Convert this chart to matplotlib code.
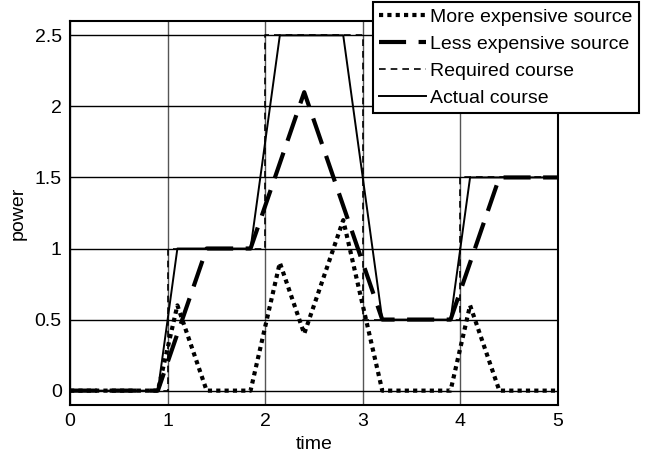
import matplotlib
matplotlib.use("Agg")
import matplotlib.pyplot as plt

plt.rcParams['font.family'] = ['Liberation Sans', 'DejaVu Sans']

# breakpoints
t_req = [0, 1, 1, 2, 2, 3, 3, 4, 4, 5]
p_req = [0, 0, 1, 1, 2.5, 2.5, 0.5, 0.5, 1.5, 1.5]

t_act = [0, 0.9, 1.1, 1.85, 2.15, 2.8, 3.2, 3.9, 4.1, 5]
p_act = [0, 0, 1.0, 1.0, 2.5, 2.5, 0.5, 0.5, 1.5, 1.5]

t_less = [0, 0.9, 1.4, 1.85, 2.4, 3.2, 3.9, 4.4, 5]
p_less = [0, 0, 1.0, 1.0, 2.1, 0.5, 0.5, 1.5, 1.5]

t_more = [0, 0.9, 1.1, 1.4, 1.85, 2.15, 2.4, 2.8, 3.2, 3.9, 4.1, 4.4, 5]
p_more = [0, 0, 0.6, 0, 0, 0.9, 0.4, 1.2, 0, 0, 0.6, 0, 0]

fig = plt.figure(figsize=(6.61, 4.59), dpi=100)
ax = fig.add_axes([0.106, 0.118, 0.738, 0.836])

ax.plot(t_more, p_more, color='black', linestyle=(0, (1, 1)), linewidth=3, label='More expensive source')
ax.plot(t_less, p_less, color='black', linestyle=(0, (6.5, 3)), linewidth=3, label='Less expensive source')
ax.plot(t_req, p_req, color='black', linestyle=(0, (4, 3)), linewidth=1.2, label='Required course')
ax.plot(t_act, p_act, color='black', linestyle='-', linewidth=1.4, label='Actual course')

ax.set_xlim(0, 5)
ax.set_ylim(-0.1, 2.6)
ax.set_xticks([0, 1, 2, 3, 4, 5])
ax.set_yticks([0, 0.5, 1, 1.5, 2, 2.5])
ax.set_yticklabels(['0', '0.5', '1', '1.5', '2', '2.5'])
ax.tick_params(direction='in', length=0, labelsize=14, pad=6)
ax.xaxis.grid(True, color='#555555', linewidth=1)
ax.yaxis.grid(True, color='black', linewidth=1)
ax.set_axisbelow(True)
for s in ax.spines.values():
    s.set_linewidth(1.5)

ax.set_xlabel('time', fontsize=14, labelpad=4)
ax.set_ylabel('power', fontsize=14, labelpad=6)

leg = fig.legend(loc='upper right', bbox_to_anchor=(0.967, 0.996), fontsize=14,
                 frameon=True, fancybox=False, handlelength=2.4, handletextpad=0.2,
                 labelspacing=0.47, borderpad=0.35, borderaxespad=0)
leg.get_frame().set_edgecolor('black')
leg.get_frame().set_linewidth(1.5)
leg.get_frame().set_alpha(1)

fig.savefig('out.png', dpi=100)
